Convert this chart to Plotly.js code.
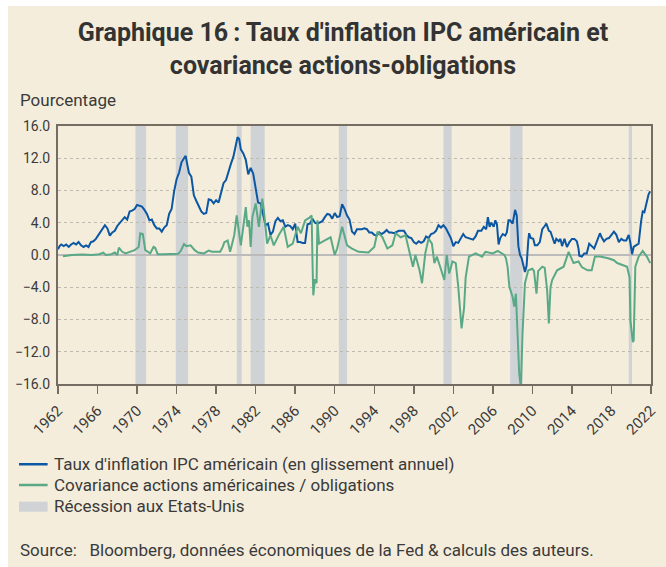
<!DOCTYPE html>
<html><head><meta charset="utf-8">
<script src="https://cdn.plot.ly/plotly-3.0.1.min.js"></script>
<style>html,body{margin:0;padding:0;background:#fff;}#chart{position:absolute;left:8px;top:6px;width:658px;height:561px;}</style>
</head><body><div id="chart"></div>
<script>
// US CPI inflation (year on year, %)
const inflDates = [
'1962-01','1962-03','1962-05','1962-08','1962-11','1963-02','1963-05','1963-08','1963-11',
'1964-02','1964-05','1964-08','1964-11','1965-02','1965-05','1965-08','1965-11',
'1966-02','1966-05','1966-08','1966-10','1967-01','1967-04','1967-07','1967-10',
'1968-01','1968-04','1968-07','1968-10','1969-01','1969-04','1969-07','1969-10',
'1970-01','1970-04','1970-07','1970-10','1971-01','1971-04','1971-07','1971-10',
'1972-01','1972-04','1972-07','1972-10','1973-01','1973-04','1973-07','1973-10',
'1974-01','1974-04','1974-07','1974-10','1974-12','1975-02','1975-04','1975-07','1975-10',
'1976-01','1976-04','1976-07','1976-10','1977-01','1977-04','1977-07','1977-10',
'1978-01','1978-04','1978-07','1978-10','1979-01','1979-04','1979-07','1979-10',
'1980-01','1980-03','1980-05','1980-07','1980-10','1981-01','1981-04','1981-07','1981-10',
'1982-01','1982-04','1982-07','1982-10','1983-01','1983-04','1983-07','1983-10',
'1984-01','1984-04','1984-07','1984-10','1985-01','1985-04','1985-07','1985-10',
'1986-01','1986-04','1986-07','1986-10','1987-01','1987-04','1987-07','1987-10',
'1988-01','1988-04','1988-07','1988-10','1989-01','1989-04','1989-07','1989-10',
'1990-01','1990-04','1990-07','1990-10','1991-01','1991-04','1991-07','1991-10',
'1992-01','1992-04','1992-07','1992-10','1993-01','1993-04','1993-07','1993-10',
'1994-01','1994-04','1994-07','1994-10','1995-01','1995-04','1995-07','1995-10',
'1996-01','1996-04','1996-07','1996-10','1997-01','1997-04','1997-07','1997-10',
'1998-01','1998-04','1998-07','1998-10','1999-01','1999-04','1999-07','1999-10',
'2000-01','2000-04','2000-07','2000-10','2001-01','2001-04','2001-07','2001-10',
'2002-01','2002-04','2002-07','2002-10','2003-01','2003-04','2003-07','2003-10',
'2004-01','2004-04','2004-07','2004-11','2005-02','2005-05','2005-07','2005-09','2005-11',
'2006-02','2006-04','2006-06','2006-08','2006-10','2007-01','2007-04','2007-06','2007-08','2007-10',
'2008-01','2008-04','2008-06','2008-08','2008-10','2008-12','2009-04','2009-06','2009-08','2009-09','2009-11',
'2010-02','2010-04','2010-07','2010-10','2011-01','2011-04','2011-06','2011-09','2011-11',
'2012-01','2012-04','2012-06','2012-09','2012-11','2013-01','2013-04','2013-07','2013-10',
'2014-01','2014-04','2014-07','2014-09','2014-10','2015-01','2015-04','2015-07','2015-10',
'2016-01','2016-04','2016-07','2016-11','2017-01','2017-04','2017-07','2017-10',
'2018-01','2018-04','2018-07','2018-10','2019-01','2019-04','2019-07','2019-10','2019-12',
'2020-02','2020-04','2020-07','2020-10','2021-01','2021-03','2021-05','2021-07','2021-09','2021-10','2021-12'
];
const inflValues = [
0.7,1.1,1.3,1.1,1.3,1.0,1.3,1.5,1.3,
1.6,1.2,1.0,1.2,1.0,1.6,1.7,2.0,
2.5,2.9,3.5,3.7,3.3,2.4,2.8,3.0,
3.6,4.0,4.4,4.7,4.4,5.4,5.5,5.7,
6.2,6.1,6.0,5.6,5.1,4.3,4.4,3.7,
3.3,3.3,2.9,3.4,3.7,5.1,5.7,7.9,
9.4,10.2,11.5,12.0,12.3,11.2,10.2,9.7,7.4,
6.7,6.0,5.4,5.1,5.2,6.9,6.8,6.4,
6.8,6.5,7.7,8.9,9.3,10.4,11.3,12.2,
13.9,14.6,14.4,13.1,12.6,11.8,10.0,10.8,10.1,
8.4,6.5,6.4,5.1,3.7,3.9,2.5,2.9,
4.2,4.6,4.2,4.3,3.5,3.7,3.6,3.2,
3.9,1.6,1.6,1.5,1.5,3.8,3.9,4.5,
4.0,3.9,4.1,4.2,4.7,5.1,5.0,4.5,
5.2,4.7,4.8,6.3,5.7,4.9,4.4,2.9,
2.6,3.2,3.2,3.2,3.3,3.2,2.8,2.8,
2.5,2.4,2.8,2.6,2.8,3.1,2.8,2.8,
2.7,2.9,3.0,3.0,3.0,2.5,2.2,2.1,
1.6,1.4,1.7,1.5,1.7,2.3,2.1,2.6,
2.7,3.0,3.7,3.4,3.7,3.3,2.7,2.1,
1.1,1.6,1.5,2.0,2.6,2.2,2.1,2.0,
1.9,2.3,3.0,3.0,3.5,3.2,4.7,3.5,4.0,
3.5,4.3,3.8,1.3,2.1,2.6,2.4,2.8,4.3,4.3,
3.9,5.6,4.9,1.1,0.0,-0.4,-2.1,-1.3,1.8,2.7,2.1,
2.0,1.2,1.2,1.6,3.2,3.6,3.9,3.0,2.9,
2.3,1.4,2.0,1.7,2.0,1.1,2.0,1.0,1.6,
2.0,2.0,1.7,0.8,-0.1,-0.2,0.2,0.2,1.4,
1.1,0.8,1.6,2.7,2.2,1.7,2.0,2.1,
2.5,2.9,2.5,1.6,2.0,1.8,1.8,2.5,1.5,
0.1,1.0,1.2,1.4,4.2,5.4,5.3,6.2,7.0,7.5,7.9
];
// Equity / bond covariance (US)
const covDates = [
'1962-07','1963-06','1964-06','1965-06','1966-03','1966-08','1966-11','1967-06','1967-10',
'1968-01','1968-03','1968-07','1968-11','1969-06','1969-10','1970-03','1970-05','1970-08','1970-11',
'1971-05','1971-09','1971-11','1972-02','1972-09','1973-06','1974-03','1974-06','1974-10',
'1975-01','1975-06','1975-11','1976-03','1976-10','1977-04','1977-08','1978-06','1978-09','1978-11',
'1979-03','1979-06','1979-09','1979-11','1980-02','1980-04','1980-07','1980-10',
'1981-01','1981-03','1981-05','1981-07','1981-09','1982-01','1982-05','1982-09','1982-11',
'1983-03','1983-07','1983-11','1984-05','1984-11','1985-04','1985-10','1986-04','1986-08',
'1987-01','1987-06','1987-09','1987-10','1987-11','1988-01','1988-03','1988-04','1988-06',
'1989-01','1989-08','1990-01','1990-04','1990-10','1991-04','1991-10','1992-06','1993-06',
'1994-01','1994-05','1994-11','1995-05','1995-11','1996-03','1996-09','1997-03','1997-06','1997-09','1997-12',
'1998-03','1998-08','1998-11','1999-03','1999-07','1999-11','2000-02','2000-05','2000-09',
'2001-02','2001-05','2001-08','2001-12','2002-04','2002-07','2002-10','2002-11',
'2003-02','2003-04','2003-08','2004-04','2004-12','2005-04','2006-01','2006-07',
'2007-03','2007-05','2007-07','2007-09','2008-01','2008-03','2008-05','2008-06','2008-08','2008-09','2008-11',
'2009-01','2009-04','2009-08','2010-01','2010-03','2010-06','2010-08',
'2011-01','2011-04','2011-07','2011-09','2011-11','2012-01','2012-07','2013-03','2013-09',
'2014-03','2014-09','2015-01','2015-08','2016-01','2016-05','2016-11','2017-09',
'2018-04','2018-08','2019-01','2019-08','2019-11','2019-12','2020-03','2020-04','2020-06','2020-10',
'2021-03','2021-08','2021-12'
];
const covValues = [
-0.15,0.0,0.05,0.0,0.1,0.3,0.0,0.1,0.3,
0.0,0.9,0.4,0.2,0.4,0.6,1.0,2.7,2.6,0.6,
0.2,1.0,0.9,0.1,0.1,0.1,0.15,0.5,1.35,
1.1,1.2,0.6,0.3,0.2,0.55,0.4,0.4,1.0,1.6,
1.8,0.4,1.6,2.45,4.9,3.1,1.2,3.5,
5.95,3.5,4.3,1.0,4.7,6.4,3.5,7.0,5.5,
1.4,2.45,1.2,2.45,3.5,1.0,1.4,3.5,2.7,
4.3,4.6,4.9,-0.65,-5.0,-3.0,-3.5,4.3,1.4,
1.8,2.2,0.0,0.8,3.5,1.2,0.8,0.4,0.3,
1.0,2.9,2.2,0.8,1.2,2.7,2.2,2.45,1.2,0.0,-1.45,
0.0,-1.9,-3.5,0.2,2.05,1.4,-1.0,-0.2,-1.45,
-3.1,0.0,-2.3,-0.8,-1.0,-3.9,-8.1,-9.1,
-6.6,-2.8,-0.2,0.2,-0.2,0.4,0.2,0.5,
0.0,-0.4,-1.5,-3.9,-5.2,-6.4,-4.8,-7.7,-12.0,-14.7,-16.5,
-9.7,-3.5,-1.9,-1.7,-2.0,-4.8,-2.0,
-1.45,-1.6,-4.4,-8.5,-4.0,-3.1,-1.9,-1.45,0.4,
-1.0,-0.8,-1.5,-1.9,-1.9,-0.2,-0.2,-0.4,
-0.65,-1.0,-1.2,-1.45,-2.8,-8.1,-10.8,-10.6,-1.45,-0.2,
0.5,-0.2,-1.0
];
// US recessions (shaded)
const recStart = ['1969-11','1973-12','1980-02','1981-07','1990-06','2001-01','2007-10','2019-10'];
const recEnd   = ['1970-12','1975-03','1980-08','1982-12','1991-04','2001-11','2009-01','2020-02'];
const yTicks = [-16,-12,-8,-4,0,4,8,12,16];
const seriesNames = ["Taux d'inflation IPC américain (en glissement annuel)",
                     'Covariance actions américaines / obligations',
                     'Récession aux Etats-Unis'];

const FONT = 'Roboto, "Liberation Sans", sans-serif';
const TXT = '#3a3a3a';
const AX = '#756d62';
const BLUE = '#0b57a4', GREEN = '#5aa986', GREY = '#d0d3d6';

const shapes = recStart.map((s,i)=>({
  type:'rect', xref:'x', yref:'paper', x0:s, x1:recEnd[i], y0:0, y1:1,
  fillcolor:GREY, line:{width:0}, layer:'between'
}));
// legend keys (drawn manually to match the reference spacing)
const lx0 = -0.0658, lx1 = -0.0175, ltx = -0.0101;
const rowY = [-0.312, -0.3925, -0.471];
shapes.push(
  {type:'line', xref:'paper', yref:'paper', x0:lx0, x1:lx1, y0:-0.311, y1:-0.311, line:{color:BLUE, width:2.5}},
  {type:'line', xref:'paper', yref:'paper', x0:lx0, x1:lx1, y0:-0.3915, y1:-0.3915, line:{color:GREEN, width:2.5}},
  {type:'rect', xref:'paper', yref:'paper', x0:lx0, x1:lx1, y0:-0.456, y1:-0.495, fillcolor:GREY, line:{width:0}}
);

const traces = [
  {type:'scatter', mode:'lines', x:inflDates, y:inflValues, name:seriesNames[0],
   line:{color:BLUE, width:2}},
  {type:'scatter', mode:'lines', x:covDates, y:covValues, name:seriesNames[1],
   line:{color:GREEN, width:2}}
];

const legendAnn = seriesNames.map((t,i)=>({
  text:t, xref:'paper', yref:'paper', x:ltx, y:rowY[i], xanchor:'left', yanchor:'middle',
  showarrow:false, font:{size:17, color:TXT}
}));

const layout = {
  width:658, height:561,
  paper_bgcolor:'#f4eddb', plot_bgcolor:'rgba(0,0,0,0)',
  margin:{l:50, r:15, t:120, b:183},
  font:{family:FONT, color:TXT, size:14},
  title:{text:"<b>Graphique 16\u2009: Taux d'inflation IPC américain et<br>covariance actions-obligations</b>",
    x:0.509, xref:'container', xanchor:'center', y:0.9375, yref:'container', yanchor:'top',
    font:{family:FONT, size:25, color:'#333333'}},
  xaxis:{type:'date', range:['1962-01-01','2022-01-01'], tick0:'1962-01-01', dtick:'M48',
    tickformat:'%Y', tickangle:-45, ticks:'outside', ticklen:8, tickwidth:1.5, tickcolor:AX,
    showline:true, linecolor:AX, linewidth:2, mirror:true, showgrid:false, zeroline:false,
    ticklabelstandoff:2, tickfont:{size:15, color:TXT}},
  yaxis:{range:[-16,16], tickvals:yTicks, tickformat:'.1f', showline:true, linecolor:AX, linewidth:2, mirror:true,
    gridcolor:'#bfbab0', griddash:'3px,3px', gridwidth:1, ticklabelstandoff:3,
    zeroline:true, zerolinecolor:'#bbbbbb', zerolinewidth:2, ticks:'', tickfont:{size:14, color:TXT}},
  shapes:shapes,
  showlegend:false,
  annotations:[
    {text:'Pourcentage', xref:'paper', yref:'paper', x:-0.0675, y:1.1008, xanchor:'left', yanchor:'middle',
     showarrow:false, font:{size:17, color:TXT}},
    {text:'Source:\u00a0\u00a0 Bloomberg, données économiques de la Fed & calculs des auteurs.', xref:'paper', yref:'paper',
     x:-0.0675, y:-0.6415, xanchor:'left', yanchor:'middle', showarrow:false, font:{size:17, color:TXT}}
  ].concat(legendAnn)
};
Plotly.newPlot('chart', traces, layout, {displayModeBar:false, staticPlot:true});
</script></body></html>
